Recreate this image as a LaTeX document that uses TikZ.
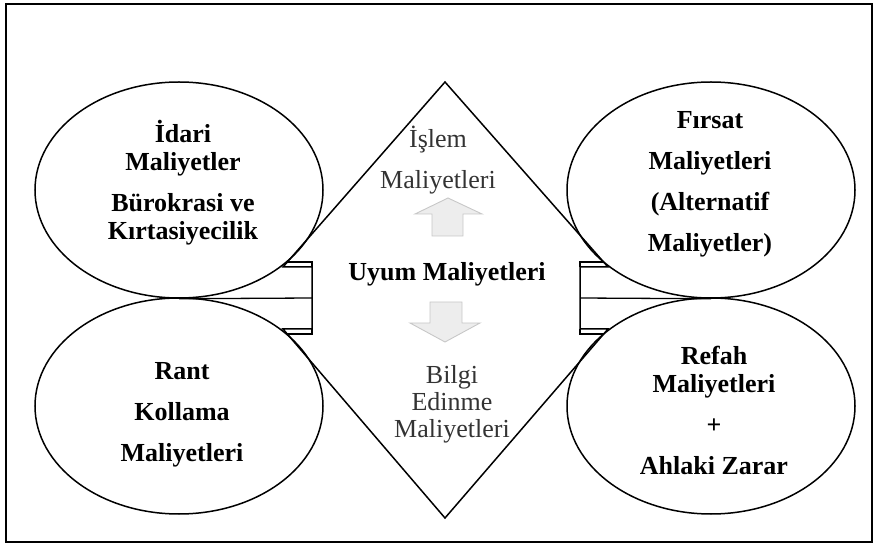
\documentclass[tikz,border=0pt]{standalone}
\usepackage{fontspec}
\setmainfont{Liberation Serif}
\usepackage{xcolor}
\usepackage{tikz}
\usetikzlibrary{shapes.geometric, positioning}

\begin{document}
\begin{tikzpicture}[
    x=1pt, y=-1pt,
    oval/.style={draw, ellipse, line width=1.5pt, minimum width=288pt, minimum height=216pt, inner sep=0pt},
    bold/.style={font=\fontsize{26}{41}\selectfont\bfseries, align=center},
    thin/.style={font=\fontsize{26}{41}\selectfont, align=center, text=black!80},
    wall/.style={line width=1.5pt, line join=miter},
    blk/.style={draw=black!22, fill=black!7, line width=0.9pt},
]
\useasboundingbox (0,0) rectangle (876,545);

% frame
\draw[line width=1.6pt] (6,4) rectangle (872,542);

% ellipses
\node[oval] (idari) at (179,190) {};
\node[oval] (rant) at (179,406) {};
\node[oval] (firsat) at (711,190) {};
\node[oval] (refah) at (711,406) {};

\node[bold, font=\fontsize{26}{28}\selectfont\bfseries] (tidari) at (183,183) {İdari\\Maliyetler\\[13pt]Bürokrasi ve\\Kırtasiyecilik};
\node[bold] (trant) at (182,415) {Rant\\Kollama\\Maliyetleri};
\node[bold] (tfirsat) at (710,184) {Fırsat\\Maliyetleri\\(Alternatif\\Maliyetler)};
\node[bold, font=\fontsize{26}{28}\selectfont\bfseries] (trefah) at (714,410) {Refah\\Maliyetleri\\[13pt]+\\[13pt]Ahlaki Zarar};

% central double arrow
\coordinate (top) at (445,82);
\coordinate (bot) at (445,518);
\coordinate (sl) at (312,298);
\coordinate (sr) at (580,298);
\draw[wall] (top) -- (283,267) -- (312,267) -- (312,329) -- (283,329) -- (bot)
    -- (608,329) -- (580,329) -- (580,267) -- (608,267) -- cycle;
\draw[wall] (287,262) -- (312,262) -- (312,267);
\draw[wall] (604,262) -- (580,262) -- (580,267);
\draw[wall] (287,334) -- (312,334) -- (312,329);
\draw[wall] (604,334) -- (580,334) -- (580,329);

% links to the ellipses
\draw[line width=1.3pt] (idari.south) -- (sl);
\draw[line width=1.3pt] (firsat.south) -- (sr);

% centre texts
\node[bold] (uyum) at (447,274) {Uyum Maliyetleri};
\node[thin] (islem) at (438,160) {İşlem\\Maliyetleri};
\node[thin, font=\fontsize{26}{27}\selectfont] (bilgi) at (452,404) {Bilgi\\Edinme\\Maliyetleri};

% block arrows
\draw[blk] (448,198) -- (482,214) -- (463,214) -- (463,236) -- (432,236) -- (432,214) -- (415,214) -- cycle;
\draw[blk] (430,302) -- (462,302) -- (462,323) -- (480,323) -- (445,342) -- (410,323) -- (430,323) -- cycle;

\end{tikzpicture}
\end{document}
